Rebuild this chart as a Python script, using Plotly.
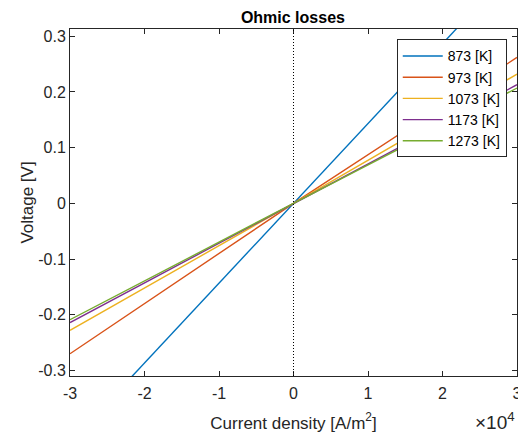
import plotly.graph_objects as go

current_density = [-30000, 0, 30000]
series_names = ["873 [K]", "973 [K]", "1073 [K]", "1173 [K]", "1273 [K]"]
voltage_873 = [-0.43, 0.0, 0.43]
voltage_973 = [-0.27, 0.0, 0.262]
voltage_1073 = [-0.228, 0.0, 0.232]
voltage_1173 = [-0.214, 0.0, 0.213]
voltage_1273 = [-0.209, 0.0, 0.207]
series_values = [voltage_873, voltage_973, voltage_1073, voltage_1173, voltage_1273]
colors = ["#0072BD", "#D95319", "#EDB120", "#7E2F8E", "#77AC30"]
x_tick_vals = [-30000, -20000, -10000, 0, 10000, 20000, 30000]
x_tick_text = ["-3", "-2", "-1", "0", "1", "2", "3"]
y_tick_vals = [-0.3, -0.2, -0.1, 0, 0.1, 0.2, 0.3]
y_tick_text = ["-0.3", "-0.2", "-0.1", "0", "0.1", "0.2", "0.3"]

fig = go.Figure()
for name, vals, c in zip(series_names, series_values, colors):
    fig.add_trace(go.Scatter(x=current_density, y=vals, mode="lines", name=name,
                             line=dict(color=c, width=1.4)))

fig.add_shape(type="line", x0=0, x1=0, y0=0, y1=1, xref="x", yref="paper",
              line=dict(color="black", width=1, dash="1px,2px"))

axis_common = dict(showgrid=False, zeroline=False, showline=True, linecolor="#262626",
                   linewidth=1, mirror="ticks", ticks="inside", ticklen=5,
                   tickcolor="#262626", tickfont=dict(size=16, color="#262626"),
                   automargin=False, ticklabeloverflow="allow")

fig.update_layout(
    width=518, height=426,
    margin=dict(l=62, r=9, t=21, b=58),
    paper_bgcolor="white", plot_bgcolor="white",
    font=dict(family="Liberation Sans, Arial, sans-serif", color="#262626"),
    title=dict(text="<b>Ohmic losses</b>", x=0.550, xanchor="center", y=0.979, yanchor="middle",
               font=dict(size=16, color="black")),
    xaxis=dict(range=[-30000, 30000], tickvals=x_tick_vals, ticktext=x_tick_text,
               ticklabelstandoff=3,
               title=dict(text="Current density [A/m<sup>2</sup>]", font=dict(size=17, color="#262626")),
               **axis_common),
    yaxis=dict(range=[-0.31, 0.313], tickvals=y_tick_vals, ticktext=y_tick_text,
               title=dict(text="Voltage [V]", font=dict(size=17, color="#262626"), standoff=0),
               **axis_common),
    legend=dict(x=0.731, y=0.97, xanchor="left", yanchor="top",
                bgcolor="white", bordercolor="#262626", borderwidth=1,
                font=dict(size=14, color="black"), tracegroupgap=0, itemwidth=40),
    showlegend=True,
)

fig.add_annotation(text="\u00d710<sup>4</sup>", xref="paper", yref="paper", x=1.0, y=-0.09,
                   xanchor="right", yanchor="top", showarrow=False,
                   font=dict(size=19, color="#262626"))

fig.write_html("out.html")
